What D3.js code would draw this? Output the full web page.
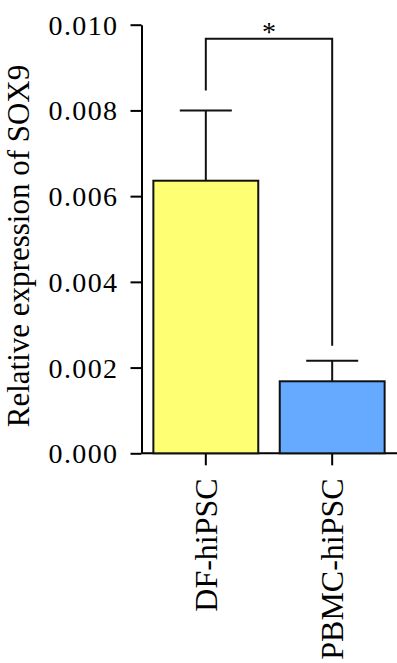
<!DOCTYPE html>
<html>
<head>
<meta charset="utf-8">
<script src="https://cdn.jsdelivr.net/npm/d3@7"></script>
<style>
  html, body { margin: 0; padding: 0; background: #fff; }
  svg text { font-family: "Liberation Serif", "DejaVu Serif", serif; fill: #000; }
  .axis path, .axis line { stroke: #000; stroke-width: 2; }
</style>
</head>
<body>
<div id="chart"></div>
<script>
const groups = ['DF-hiPSC', 'PBMC-hiPSC'];
const means = [0.00636, 0.00168];
const errors = [0.00164, 0.00048];
const colors = ['#FFFF73', '#66AAFF'];
const yTicks = [0, 0.002, 0.004, 0.006, 0.008, 0.010];
const sigLabel = '*';
const sigLevel = 0.00967;

const width = 397, height = 663;

const svg = d3.select('#chart').append('svg')
  .attr('width', width)
  .attr('height', height);

const x = d3.scaleBand().domain(groups).range([142, 396])
  .paddingInner(0.17).paddingOuter(0.09);
const y = d3.scaleLinear().domain([0, 0.010]).range([453.3, 24.7]);

// x axis
const xAxis = svg.append('g')
  .attr('class', 'axis')
  .attr('transform', 'translate(0,' + y(0) + ')')
  .call(d3.axisBottom(x).tickSizeInner(12).tickSizeOuter(0));
xAxis.select('.domain').attr('d', 'M142,0H397');
xAxis.selectAll('.tick text')
  .attr('font-size', 32)
  .attr('transform', 'rotate(-90)')
  .attr('text-anchor', 'end')
  .attr('x', -25)
  .attr('y', 11)
  .attr('dy', 0);

// bars
svg.append('g').selectAll('rect')
  .data(groups)
  .enter().append('rect')
  .attr('x', d => x(d))
  .attr('width', x.bandwidth())
  .attr('y', (d, i) => y(means[i]))
  .attr('height', (d, i) => y(0) - y(means[i]))
  .attr('fill', (d, i) => colors[i])
  .attr('stroke', '#111')
  .attr('stroke-width', 2);

// error bars (upper only)
const cap = 26;
const err = svg.append('g').attr('stroke', '#111').attr('stroke-width', 2);
groups.forEach((g, i) => {
  const cx = x(g) + x.bandwidth() / 2;
  err.append('line')
    .attr('x1', cx).attr('x2', cx)
    .attr('y1', y(means[i])).attr('y2', y(means[i] + errors[i]));
  err.append('line')
    .attr('x1', cx - cap).attr('x2', cx + cap)
    .attr('y1', y(means[i] + errors[i])).attr('y2', y(means[i] + errors[i]));
});

// y axis (drawn after bars so it sits on top)
const yAxis = svg.append('g')
  .attr('class', 'axis')
  .attr('transform', 'translate(141.5,0)')
  .call(d3.axisLeft(y).tickValues(yTicks).tickFormat(d3.format('.3f'))
    .tickSizeInner(11).tickSizeOuter(0).tickPadding(12));
yAxis.selectAll('text')
  .attr('font-size', 28)
  .attr('letter-spacing', 1.4)
  .attr('dy', '0.34em');

// y label
svg.append('text')
  .attr('transform', 'translate(29,246) rotate(-90)')
  .attr('text-anchor', 'middle')
  .attr('font-size', 31)
  .text('Relative expression of SOX9');

// significance bracket
const gap = 17;
const x1 = x(groups[0]) + x.bandwidth() / 2;
const x2 = x(groups[1]) + x.bandwidth() / 2;
const top1 = y(means[0] + errors[0]) - gap - 3;
const top2 = y(means[1] + errors[1]) - gap + 2;
svg.append('path')
  .attr('d', 'M' + x1 + ',' + top1 + 'V' + y(sigLevel) + 'H' + x2 + 'V' + top2)
  .attr('fill', 'none')
  .attr('stroke', '#111')
  .attr('stroke-width', 2);
svg.append('text')
  .attr('x', (x1 + x2) / 2)
  .attr('y', y(sigLevel) + 2)
  .attr('text-anchor', 'middle')
  .attr('font-size', 28)
  .text(sigLabel);
</script>
</body>
</html>
